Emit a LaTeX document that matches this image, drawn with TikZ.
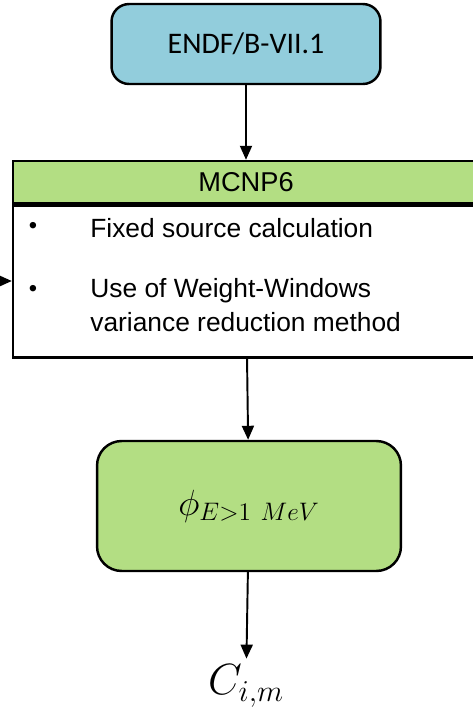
\documentclass[tikz,border=0pt]{standalone}
\usepackage{amsmath,amssymb}
\usepackage{fontspec}
\setmainfont{Liberation Sans}
\newfontfamily\carlito{Carlito}
\usepackage{tikz}
\usetikzlibrary{arrows.meta}
\definecolor{endfblue}{RGB}{146,205,220}
\definecolor{mcnpgreen}{RGB}{179,222,131}
\tikzset{
	roundbox/.style={shape=rectangle,rounded corners=10pt,draw=black,line width=1.4pt},
	flow/.style={-{Triangle[length=0.28cm,width=0.24cm]},line width=1.1pt,black}
}

\begin{document}
\begin{tikzpicture}[x=0.02cm,y=-0.02cm]
			\useasboundingbox (0,0) rectangle (473,711);
			\node[roundbox,fill=endfblue,minimum width=5.38cm,minimum height=1.6cm,font=\carlito\fontsize{17}{20}\selectfont] (endf) at (246,44) {ENDF/B-VII.1};
			
			\node[shape=rectangle,draw=black,line width=1.4pt,fill=mcnpgreen,minimum width=9.32cm,minimum height=0.84cm,inner sep=0pt,font=\fontsize{15.5}{18}\selectfont] (head) at (246,182) {MCNP6};
			\node[shape=rectangle,draw=black,line width=1.4pt,minimum width=9.32cm,minimum height=3.04cm,inner sep=0pt,anchor=north] (mcnp) at (head.south) {};
			\node[font=\fontsize{13.5}{16}\selectfont] (b1) at (33,228) {\textbullet};
			\node[anchor=west,inner sep=0pt,font=\fontsize{15}{18}\selectfont] (t1) at (90,228) {Fixed source calculation};
			\node[font=\fontsize{13.5}{16}\selectfont] (b2) at (33,291) {\textbullet};
			\node[anchor=west,inner sep=0pt,font=\fontsize{15}{18}\selectfont] (t2) at (90,291) {Use of Weight-Windows};
			\node[anchor=west,inner sep=0pt,font=\fontsize{15}{18}\selectfont] (t3) at (90,322) {variance reduction method};
			
			\node[roundbox,rounded corners=14pt,fill=mcnpgreen,minimum width=6.08cm,minimum height=2.6cm] (phi) at (249,506) {\fontsize{20}{24}\selectfont$\phi_{E>1\ MeV}$};
			\node (cim) at (246,686) {\fontsize{24}{28}\selectfont$C_{i,m}$};
			\coordinate (feed) at (-20,281);
			
			\path [flow] (endf) edge (head);
			\path [flow] (mcnp) edge (phi);
			\path [flow] (phi) edge (cim);
			\path [flow] (feed) edge (mcnp.west |- feed);
\end{tikzpicture}
\end{document}
